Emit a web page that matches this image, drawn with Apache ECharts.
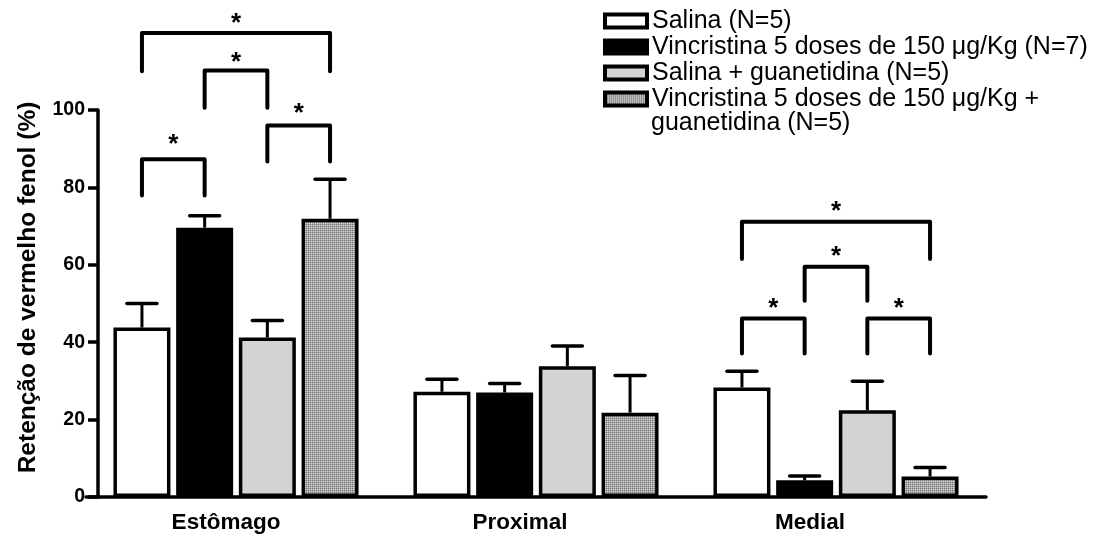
<!DOCTYPE html>
<html>
<head>
<meta charset="utf-8">
<script src="https://cdn.jsdelivr.net/npm/echarts@6/dist/echarts.min.js"></script>
<style>html,body{margin:0;padding:0;background:#fff}#c{width:1103px;height:534px}</style>
</head>
<body>
<div id="c"></div>
<script>
// ---- data ----
const categories = ['Estômago', 'Proximal', 'Medial'];
const seriesNames = ['Salina (N=5)', 'Vincristina 5 doses de 150 μg/Kg (N=7)', 'Salina + guanetidina (N=5)', 'Vincristina 5 doses de 150 μg/Kg + guanetidina (N=5)'];
const salina = [43.8, 27.2, 28.3];
const vincristina = [69.6, 27.0, 4.3];
const salinaGuan = [41.2, 33.8, 22.4];
const vincGuan = [71.9, 21.8, 5.3];
const salinaErr = [6.2, 3.2, 4.2];
const vincristinaErr = [3.1, 2.3, 1.1];
const salinaGuanErr = [4.4, 5.2, 7.5];
const vincGuanErr = [10.2, 9.6, 2.3];
const yTicks = [0, 20, 40, 60, 80, 100];
// significance brackets: [category, fromBar, toBar, lineLevel, endLevel, starLevel]
const brackets = [
  [0, 0, 3, 119.9, 110.0, 124.0],
  [0, 1, 2, 110.2, 100.6, 114.0],
  [0, 0, 1, 87.3, 77.9, 92.9],
  [0, 2, 3, 96.0, 86.7, 100.9],
  [2, 0, 3, 71.1, 61.5, 75.4],
  [2, 1, 2, 59.5, 50.7, 63.8],
  [2, 0, 1, 46.1, 37.1, 50.4],
  [2, 2, 3, 46.1, 37.1, 50.4]
];

const FONT = '"Liberation Sans", Arial, Helvetica, sans-serif';
const BAR_W = 57;
const PITCH = 62.7;

// pattern for the 4th group
const pc = document.createElement('canvas');
pc.width = 2; pc.height = 2;
const px = pc.getContext('2d');
px.fillStyle = '#d4d4d4'; px.fillRect(0, 0, 2, 2);
px.fillStyle = '#a4a4a4'; px.fillRect(0, 0, 2, 1); px.fillRect(0, 0, 1, 2);
px.fillStyle = '#7c7c7c'; px.fillRect(0, 0, 1, 1);
const patternFill = { image: pc, repeat: 'repeat' };

const means = [salina, vincristina, salinaGuan, vincGuan];
const errs = [salinaErr, vincristinaErr, salinaGuanErr, vincGuanErr];
const fills = ['#ffffff', '#000000', '#d3d3d3', patternFill];

const errData = [];
means.forEach((m, s) => m.forEach((v, c) => errData.push([c, s, v, v + errs[s][c]])));

const chart = echarts.init(document.getElementById('c'));
const barSeries = means.map((m, s) => ({
  name: seriesNames[s],
  type: 'bar',
  data: m,
  barWidth: BAR_W,
  barGap: '10%',
  itemStyle: { color: fills[s], borderColor: '#000', borderWidth: 3.5 },
  emphasis: { disabled: true },
  z: 2
}));

chart.setOption({
  animation: false,
  backgroundColor: '#fff',
  grid: { left: 86, right: 117, top: 110, bottom: 37 },
  legend: {
    orient: 'vertical', left: 598, top: 3,
    itemWidth: 42, itemHeight: 13, itemGap: 0,
    icon: 'rect',
    selectedMode: false,
    itemStyle: { borderWidth: 4, borderColor: '#000' },
    textStyle: { fontFamily: FONT, fontSize: 25, color: '#000', lineHeight: 26 },
    formatter: n => n === seriesNames[3] ? 'Vincristina 5 doses de 150 μg/Kg +' : n,
    data: seriesNames
  },
  graphic: [{
    type: 'text', x: 651, y: 123,
    style: { text: 'guanetidina (N=5)', font: '25px ' + FONT, fill: '#000', verticalAlign: 'middle' }
  }],
  xAxis: {
    type: 'category', data: categories,
    axisLine: { lineStyle: { color: '#000', width: 3.5 } },
    axisTick: { show: false },
    axisLabel: {
      margin: 14, fontFamily: FONT, fontSize: 22, fontWeight: 'bold', color: '#000',
      formatter: (v, i) => '{l' + i + '|' + v + '}',
      rich: {
        l0: { fontFamily: FONT, fontSize: 22.5, fontWeight: 'bold', color: '#000', padding: [0, 20, 0, 0] },
        l1: { fontFamily: FONT, fontSize: 22.5, fontWeight: 'bold', color: '#000', padding: [0, 32, 0, 0] },
        l2: { fontFamily: FONT, fontSize: 22.5, fontWeight: 'bold', color: '#000', padding: [0, 52, 0, 0] }
      }
    }
  },
  yAxis: {
    type: 'value', min: 0, max: 100, interval: 20, offset: -12,
    name: 'Retenção de vermelho fenol (%)', nameLocation: 'middle', nameGap: 57,
    nameTextStyle: { fontFamily: FONT, fontSize: 24.5, fontWeight: 'bold', color: '#000', padding: [0, 0, 0, 32] },
    axisLine: { show: true, lineStyle: { color: '#000', width: 3.5 } },
    axisTick: { show: true, length: 10, lineStyle: { color: '#000', width: 3.5 } },
    splitLine: { show: false },
    axisLabel: {
      margin: 13, fontFamily: FONT, fontSize: 19.5, fontWeight: 'bold', color: '#000',
      formatter: v => yTicks.includes(v) ? String(v) : ''
    }
  },
  series: [
    ...barSeries,
    {
      type: 'custom', name: 'err', clip: false, z: 3, silent: true,
      data: errData, encode: { x: 0, y: 3 },
      renderItem: (params, api) => {
        const c = api.value(0), s = api.value(1);
        const base = api.coord([c, api.value(2)]);
        const top = api.coord([c, api.value(3)]);
        const x = base[0] + (s - 1.5) * PITCH;
        return {
          type: 'group', children: [
            { type: 'line', shape: { x1: x, y1: base[1], x2: x, y2: top[1] }, style: { stroke: '#000', lineWidth: 3 } },
            { type: 'line', shape: { x1: x - 15, y1: top[1], x2: x + 15, y2: top[1] }, style: { stroke: '#000', lineWidth: 3.5, lineCap: 'round' } }
          ]
        };
      }
    },
    {
      type: 'custom', name: 'sig', clip: false, z: 4, silent: true,
      data: brackets, encode: { x: 0, y: 3 },
      renderItem: (params, api) => {
        const c = api.value(0);
        const x1 = api.coord([c, 0])[0] + (api.value(1) - 1.5) * PITCH;
        const x2 = api.coord([c, 0])[0] + (api.value(2) - 1.5) * PITCH;
        const yl = api.coord([c, api.value(3)])[1];
        const ye = api.coord([c, api.value(4)])[1];
        const ys = api.coord([c, api.value(5)])[1];
        return {
          type: 'group', children: [
            { type: 'polyline', shape: { points: [[x1, ye], [x1, yl], [x2, yl], [x2, ye]] },
              style: { stroke: '#000', lineWidth: 4, fill: null, lineCap: 'round', lineJoin: 'round' } },
            { type: 'text', x: (x1 + x2) / 2, y: ys + 7,
              style: { text: '*', font: 'bold 26px ' + FONT, fill: '#000', align: 'center', verticalAlign: 'middle' } }
          ]
        };
      }
    }
  ]
});
</script>
</body>
</html>
